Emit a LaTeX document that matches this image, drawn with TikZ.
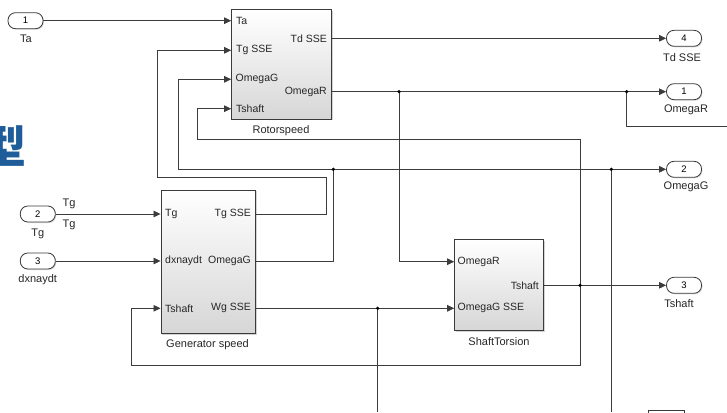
\documentclass[tikz,border=0pt]{standalone}
\usepackage{fontspec}
\setmainfont{Liberation Sans}
\newfontfamily\cjkfont{Noto Sans CJK SC}
\usetikzlibrary{arrows.meta,shadows}
\definecolor{wirec}{HTML}{3C3C3C}
\definecolor{boxc}{HTML}{3A3A3A}
\definecolor{cjkblue}{HTML}{1F5C9A}
\begin{document}
\begin{tikzpicture}[x=1pt,y=-1pt,
  wire/.style={draw=wirec, line width=0.8pt},
  conn/.style={wire, -{Triangle[length=7pt,width=6.5pt]}},
  block/.style={draw=boxc, line width=1pt, top color=white, bottom color=black!16,
    drop shadow={shadow xshift=1.3pt,shadow yshift=-1.3pt,opacity=0.35}, inner sep=0pt},
  port/.style={draw=boxc, line width=0.8pt, rounded corners=7.5pt, fill=white,
    minimum width=35pt, minimum height=16pt, inner sep=0pt,
    font=\fontsize{9.5}{10}\selectfont,
    drop shadow={shadow xshift=1pt,shadow yshift=-1pt,opacity=0.3}},
  plab/.style={font=\fontsize{10.5}{12}\selectfont, inner sep=0pt, text=black!85},
  blab/.style={font=\fontsize{11}{13}\selectfont, inner sep=0pt, text=black!85},
  dot/.style={circle, fill=black, inner sep=0pt, minimum size=3.6pt}]
\useasboundingbox (0,0) rectangle (727,412);
\clip (0,0) rectangle (727,412);

% large CJK character (partly cut by the left edge, as in the reference)
\node[anchor=base east, inner sep=0pt, text=cjkblue] (cjk) at (27,163.5)
  {\cjkfont\bfseries\fontsize{45}{45}\selectfont 型};

% blocks
\node[block, minimum width=100pt, minimum height=109pt] (rs) at (281.7,64.5) {};
\node[block, minimum width=94.3pt, minimum height=143.3pt] (gs) at (208.2,261.7) {};
\node[block, minimum width=88.6pt, minimum height=91.4pt] (st) at (499,285) {};

\node[blab] (rsname) at (281,130.5) {Rotorspeed};
\node[blab] (gsname) at (207.5,344.5) {Generator speed};
\node[blab] (stname) at (499,342) {ShaftTorsion};

% port coordinates
\coordinate (rs-ta) at (rs.west |- 0,20.7);
\coordinate (rs-tg) at (rs.west |- 0,50.3);
\coordinate (rs-og) at (rs.west |- 0,79.3);
\coordinate (rs-ts) at (rs.west |- 0,108.7);
\coordinate (rs-td) at (rs.east |- 0,38.3);
\coordinate (rs-or) at (rs.east |- 0,91.7);
\coordinate (gs-tg) at (gs.west |- 0,214);
\coordinate (gs-dx) at (gs.west |- 0,261);
\coordinate (gs-ts) at (gs.west |- 0,308.3);
\coordinate (gs-tgo) at (gs.east |- 0,214);
\coordinate (gs-og) at (gs.east |- 0,261);
\coordinate (gs-wg) at (gs.east |- 0,308.3);
\coordinate (st-or) at (st.west |- 0,261.7);
\coordinate (st-og) at (st.west |- 0,308.3);
\coordinate (st-ts) at (st.east |- 0,285.3);

% port labels
\node[plab, anchor=west] (l1) at (236,20.7) {Ta};
\node[plab, anchor=west] (l2) at (236,50.3) {Tg SSE};
\node[plab, anchor=west] (l3) at (235.5,79.3) {OmegaG};
\node[plab, anchor=west] (l4) at (236,108.7) {Tshaft};
\node[plab, anchor=east] (l5) at (327,38.3) {Td SSE};
\node[plab, anchor=east] (l6) at (327,91.7) {OmegaR};
\node[plab, anchor=west] (l7) at (165,214) {Tg};
\node[plab, anchor=west] (l8) at (165,261) {dxnaydt};
\node[plab, anchor=west] (l9) at (165,308.3) {Tshaft};
\node[plab, anchor=east] (l10) at (251,214) {Tg SSE};
\node[plab, anchor=east] (l11) at (251,261) {OmegaG};
\node[plab, anchor=east] (l12) at (251,308.3) {Wg SSE};
\node[plab, anchor=west] (l13) at (457.5,261.7) {OmegaR};
\node[plab, anchor=west] (l14) at (457.5,308.3) {OmegaG SSE};
\node[plab, anchor=east] (l15) at (539,285.3) {Tshaft};

% inports
\node[port] (in1) at (25.5,20.7) {1};
\node[port] (in2) at (37.8,214) {2};
\node[port] (in3) at (37.8,261) {3};
\node[blab] (in1l) at (26,39) {Ta};
\node[blab] (in2l) at (37.7,233.5) {Tg};
\node[blab] (in3l) at (37.7,280) {dxnaydt};
\node[blab, anchor=west] (tga) at (62.5,204) {Tg};
\node[blab, anchor=west] (tgb) at (62.5,224.5) {Tg};

% outports
\node[port] (out4) at (684,38.3) {4};
\node[port] (out1) at (684,91.7) {1};
\node[port] (out2) at (684,169.3) {2};
\node[port] (out3) at (684,285.3) {3};
\node[blab] (out4l) at (682,57.5) {Td SSE};
\node[blab] (out1l) at (686,110) {OmegaR};
\node[blab] (out2l) at (686,187) {OmegaG};
\node[blab] (out3l) at (679,304) {Tshaft};

% junctions
\coordinate (j1) at (399,91.7);
\coordinate (j2) at (626.7,91.7);
\coordinate (j3) at (333.3,169.3);
\coordinate (j4) at (611.3,169.3);
\coordinate (j5) at (580,285.3);
\coordinate (j6) at (377.7,308.3);
\coordinate (e1) at (727,126.7);
\coordinate (b4) at (611.3,412);
\coordinate (b6) at (377.7,412);

% connectors
\draw[conn] (in1.east) -- (rs-ta);
\draw[conn] (in2.east) -- (gs-tg);
\draw[conn] (in3.east) -- (gs-dx);
\draw[conn] (rs-td) -- (out4.west);
\draw[conn] (rs-or) -- (j1) -- (j2) -- (out1.west);
\draw[wire] (j2) |- (e1);
\draw[conn] (j1) |- (st-or);
\draw[conn] (gs-tgo) -- (326,214) -- (326,177) -- (157,177) |- (rs-tg);
\draw[wire] (gs-og) -| (j3);
\draw[conn] (j3) -- (178.7,169.3) |- (rs-og);
\draw[conn] (j3) -- (j4) -- (out2.west);
\draw[wire] (j4) -- (b4);
\draw[conn] (st-ts) -- (j5) -- (out3.west);
\draw[conn] (j5) -- (580,139.3) -- (197.7,139.3) |- (rs-ts);
\draw[conn] (j5) -- (580,365) -- (131.7,365) |- (gs-ts);
\draw[conn] (gs-wg) -- (j6) -- (st-og);
\draw[wire] (j6) -- (b6);

\foreach \j in {j1,j2,j3,j4,j5,j6} \node[dot] at (\j) {};

% partial block at the bottom edge
\draw[draw=boxc, line width=1pt] (648,414) -- (648,410.7) -- (684,410.7) -- (684,414);
\end{tikzpicture}
\end{document}
